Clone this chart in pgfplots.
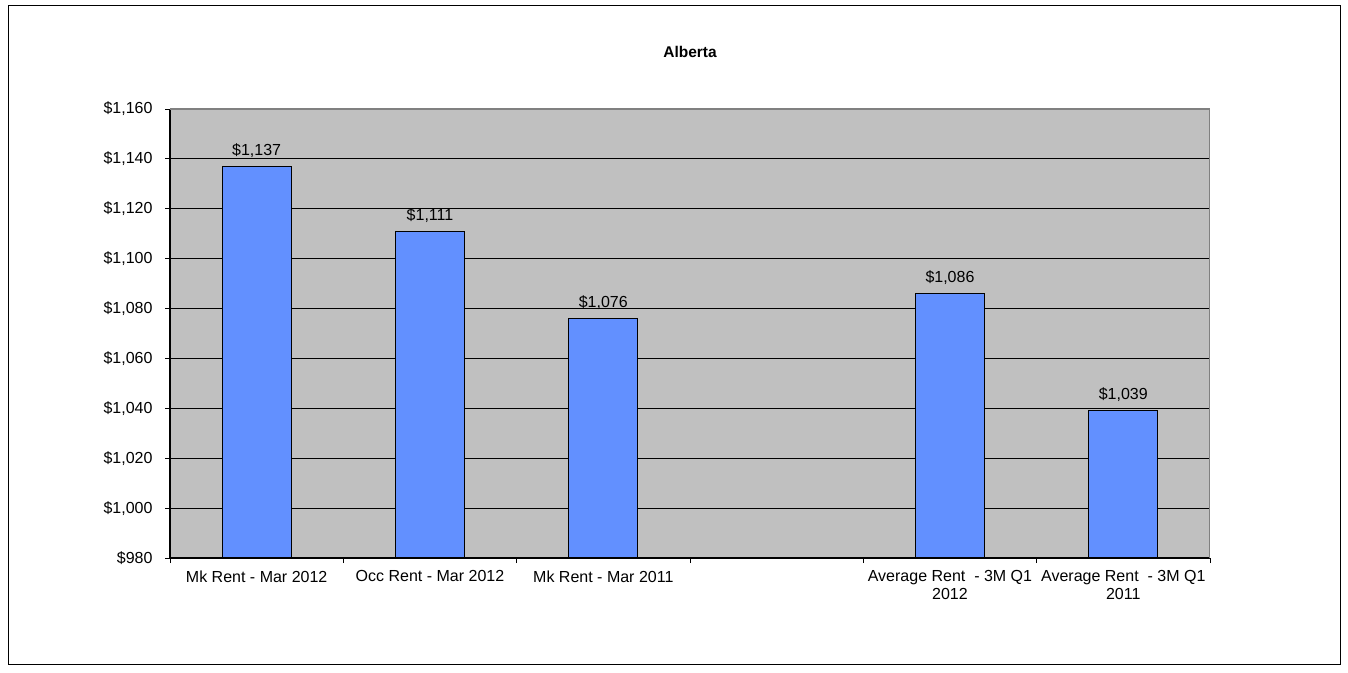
\documentclass[border=0pt]{standalone}
\usepackage{pgfplots}
\pgfplotsset{compat=1.18}
\usepackage{fontspec}
\setmainfont{Liberation Sans}
\definecolor{barblue}{RGB}{98,144,255}
\definecolor{plotgray}{RGB}{192,192,192}
\definecolor{bordergray}{RGB}{128,128,128}
\begin{document}
\begin{tikzpicture}[x=1pt,y=1pt]
\path[fill=white] (0,0) rectangle (1348,672);
\draw[black, line width=1pt] (8,8) rectangle (1340,666);
\node[font=\bfseries\fontsize{15.5}{18}\selectfont] at (690,620) {Alberta};
\begin{axis}[
 at={(170pt,114pt)}, anchor=south west,
 width=1040pt, height=449pt, scale only axis,
 xmin=-0.5, xmax=5.5, ymin=980, ymax=1160,
 axis lines=left,
 axis line style={-, black, line width=1.2pt},
 axis background/.style={fill=plotgray},
 tick align=outside,
 major tick length=5pt,
 tick style={black, line width=0.8pt},
 ytick={980,1000,...,1160},
 yticklabel={\$\pgfmathprintnumber[fixed,1000 sep={,},assume math mode=true]{\tick}},
 y tick label style={xshift=-9pt},
 ymajorgrids,
 y grid style={black, line width=0.8pt},
 xtick={-0.5,0.5,...,5.5},
 xticklabels={Mk Rent - Mar 2012, Occ Rent - Mar 2012, Mk Rent - Mar 2011, {}, {Average Rent\ \ - 3M Q1\\2012}, {Average Rent\ \ - 3M Q1\\2011}, {}},
 x tick label style={xshift=86.667pt, yshift=-4pt, align=center},
 ticklabel style={font=\fontsize{16}{17.5}\selectfont},
 ybar, bar width=69pt,
 nodes near coords={\$\pgfmathprintnumber[fixed,1000 sep={,},assume math mode=true]{\pgfplotspointmeta}},
 nodes near coords style={font=\fontsize{16}{17.5}\selectfont, anchor=south, yshift=5pt},
]
\addplot[fill=barblue, draw=black, line width=1.2pt] coordinates {(0,1137) (1,1111) (2,1076) (4,1086) (5,1039)};
\draw[bordergray, line width=1.2pt] (rel axis cs:0,1) -- (rel axis cs:1,1) -- (rel axis cs:1,0);
\end{axis}
\end{tikzpicture}
\end{document}
